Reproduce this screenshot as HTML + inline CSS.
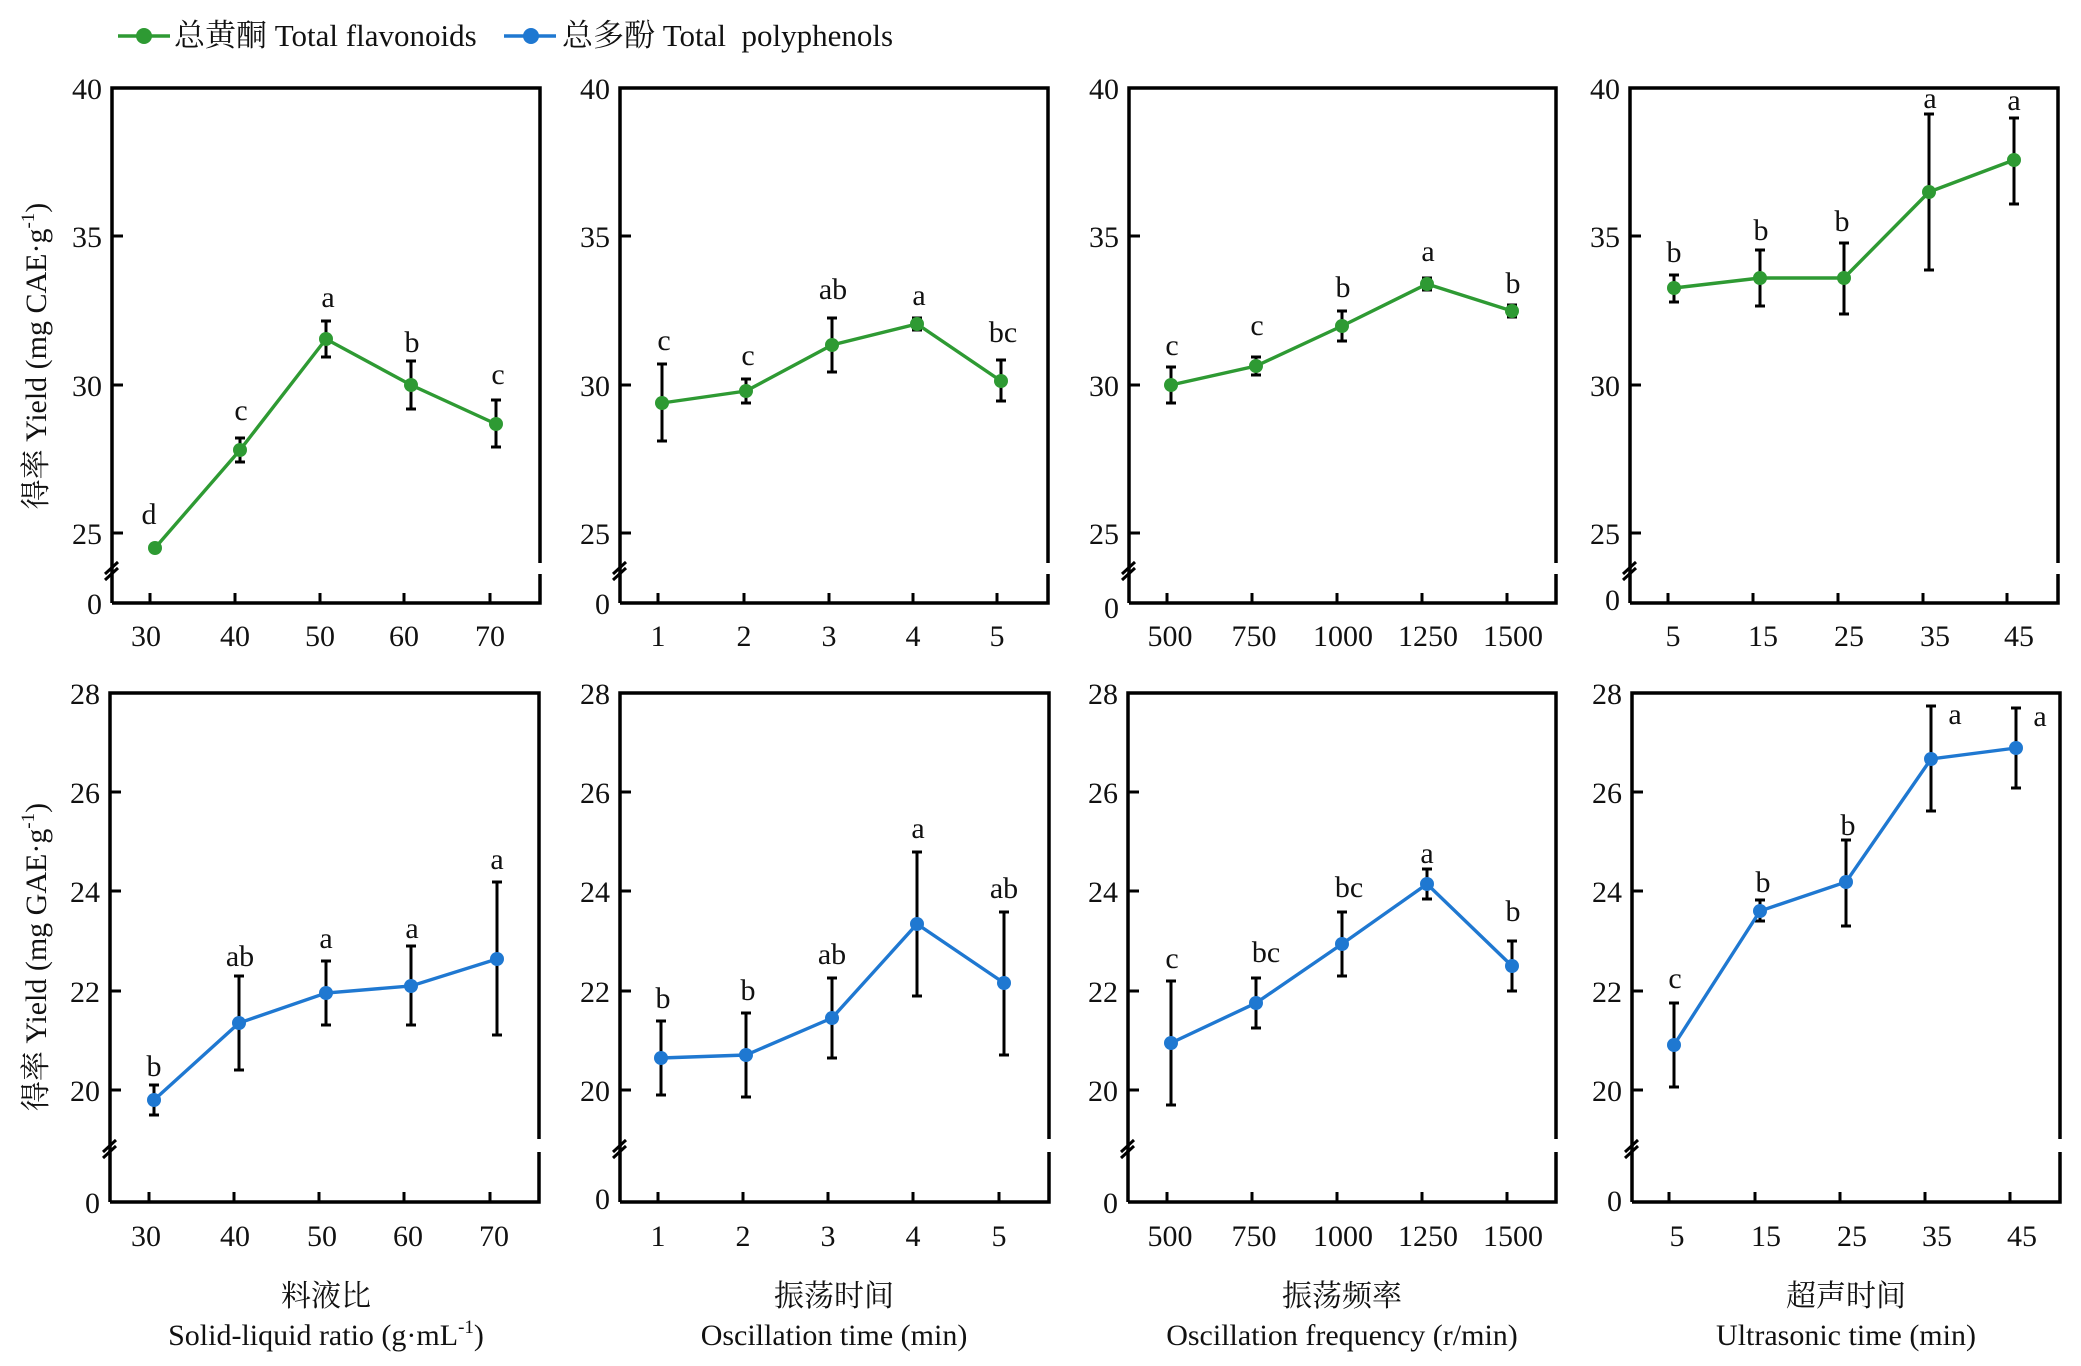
<!DOCTYPE html>
<html><head><meta charset="utf-8"><style>
html,body{margin:0;padding:0;background:#fff;}
svg{display:block;font-family:"Liberation Serif","Noto Serif CJK SC",serif;}
.f{fill:none;stroke:#000;stroke-width:3.5;}
.t{stroke:#000;stroke-width:3;}
.e{stroke:#000;stroke-width:3;fill:none;}
.g{fill:none;stroke:#2e9a33;stroke-width:3.4;}
.b{fill:none;stroke:#1f78d1;stroke-width:3.4;}
text{font-size:30px;fill:#111;}
.yl{text-anchor:end;}
.c{text-anchor:middle;}
.lg{font-size:31px;}
</style></head><body>
<svg width="2081" height="1366" viewBox="0 0 2081 1366" xmlns="http://www.w3.org/2000/svg">
<line x1="118" y1="36" x2="170" y2="36" stroke="#2e9a33" stroke-width="3.4"/><circle cx="144" cy="36" r="8" fill="#2e9a33"/>
<text class="lg" x="174" y="46">总黄酮 Total flavonoids</text>
<line x1="504" y1="36" x2="556" y2="36" stroke="#1f78d1" stroke-width="3.4"/><circle cx="531" cy="36" r="8" fill="#1f78d1"/>
<text class="lg" x="562" y="46">总多酚 Total&#160; polyphenols</text>

<text class="c" transform="translate(46,356) rotate(-90)">得率 Yield (mg CAE·g<tspan font-size="19" dy="-12">-1</tspan><tspan dy="12">)</tspan></text>
<text class="c" transform="translate(46,957) rotate(-90)">得率 Yield (mg GAE·g<tspan font-size="19" dy="-12">-1</tspan><tspan dy="12">)</tspan></text>

<path class="f" d="M112,603 V88 H540 V563 M540,574 V603 H112"/>
<path class="t" d="M112,236 h11 M112,385 h11 M112,533 h11 M150,603 v-10 M235,603 v-10 M320,603 v-10 M404,603 v-10 M490,603 v-10"/>
<path class="t" d="M105,574 l13,-12 M105,580 l13,-12"/>
<path class="f" d="M620,603 V88 H1048 V563 M1048,574 V603 H620"/>
<path class="t" d="M620,236 h11 M620,385 h11 M620,533 h11 M658,603 v-10 M744,603 v-10 M829,603 v-10 M913,603 v-10 M997,603 v-10"/>
<path class="t" d="M613,574 l13,-12 M613,580 l13,-12"/>
<path class="f" d="M1129,603 V88 H1556 V563 M1556,574 V603 H1129"/>
<path class="t" d="M1129,236 h11 M1129,385 h11 M1129,533 h11 M1167,603 v-10 M1252,603 v-10 M1337,603 v-10 M1422,603 v-10 M1507,603 v-10"/>
<path class="t" d="M1122,574 l13,-12 M1122,580 l13,-12"/>
<path class="f" d="M1630,603 V88 H2058 V563 M2058,574 V603 H1630"/>
<path class="t" d="M1630,236 h11 M1630,385 h11 M1630,533 h11 M1668,603 v-10 M1753,603 v-10 M1838,603 v-10 M1923,603 v-10 M2007,603 v-10"/>
<path class="t" d="M1623,574 l13,-12 M1623,580 l13,-12"/>

<text class="yl" x="102" y="99">40</text><text class="yl" x="102" y="247">35</text><text class="yl" x="102" y="396">30</text><text class="yl" x="102" y="544">25</text><text class="yl" x="102" y="614">0</text>
<text class="yl" x="610" y="99">40</text><text class="yl" x="610" y="247">35</text><text class="yl" x="610" y="396">30</text><text class="yl" x="610" y="544">25</text><text class="yl" x="610" y="614">0</text>
<text class="yl" x="1119" y="99">40</text><text class="yl" x="1119" y="247">35</text><text class="yl" x="1119" y="396">30</text><text class="yl" x="1119" y="544">25</text><text class="yl" x="1119" y="618">0</text>
<text class="yl" x="1620" y="99">40</text><text class="yl" x="1620" y="247">35</text><text class="yl" x="1620" y="396">30</text><text class="yl" x="1620" y="544">25</text><text class="yl" x="1620" y="610">0</text>

<text class="c" x="146" y="646">30</text><text class="c" x="235" y="646">40</text><text class="c" x="320" y="646">50</text><text class="c" x="404" y="646">60</text><text class="c" x="490" y="646">70</text>
<text class="c" x="658" y="646">1</text><text class="c" x="744" y="646">2</text><text class="c" x="829" y="646">3</text><text class="c" x="913" y="646">4</text><text class="c" x="997" y="646">5</text>
<text class="c" x="1170" y="646">500</text><text class="c" x="1254" y="646">750</text><text class="c" x="1343" y="646">1000</text><text class="c" x="1428" y="646">1250</text><text class="c" x="1513" y="646">1500</text>
<text class="c" x="1673" y="646">5</text><text class="c" x="1763" y="646">15</text><text class="c" x="1849" y="646">25</text><text class="c" x="1935" y="646">35</text><text class="c" x="2019" y="646">45</text>

<path class="e" d="M240,438 V462 M235,438 h10 M235,462 h10
 M326,321 V357 M321,321 h10 M321,357 h10
 M411,361 V409 M406,361 h10 M406,409 h10
 M496,400 V447 M491,400 h10 M491,447 h10"/>
<polyline class="g" points="155,548 240,450 326,339 411,385 496,424"/>
<g fill="#2e9a33"><circle cx="155" cy="548" r="7"/><circle cx="240" cy="450" r="7"/><circle cx="326" cy="339" r="7"/><circle cx="411" cy="385" r="7"/><circle cx="496" cy="424" r="7"/></g>
<text class="c" x="149" y="524">d</text><text class="c" x="241" y="420">c</text><text class="c" x="328" y="307">a</text><text class="c" x="412" y="352">b</text><text class="c" x="498" y="384">c</text>

<path class="e" d="M662,364 V441 M657,364 h10 M657,441 h10
 M746,379 V403 M741,379 h10 M741,403 h10
 M832,318 V372 M827,318 h10 M827,372 h10
 M917,318 V330 M912,318 h10 M912,330 h10
 M1001,360 V401 M996,360 h10 M996,401 h10"/>
<polyline class="g" points="662,403 746,391 832,345 917,324 1001,381"/>
<g fill="#2e9a33"><circle cx="662" cy="403" r="7"/><circle cx="746" cy="391" r="7"/><circle cx="832" cy="345" r="7"/><circle cx="917" cy="324" r="7"/><circle cx="1001" cy="381" r="7"/></g>
<text class="c" x="664" y="350">c</text><text class="c" x="748" y="365">c</text><text class="c" x="833" y="299">ab</text><text class="c" x="919" y="305">a</text><text class="c" x="1003" y="342">bc</text>

<path class="e" d="M1171,367 V403 M1166,367 h10 M1166,403 h10
 M1256,357 V375 M1251,357 h10 M1251,375 h10
 M1342,311 V341 M1337,311 h10 M1337,341 h10
 M1427,278 V290 M1422,278 h10 M1422,290 h10
 M1512,305 V317 M1507,305 h10 M1507,317 h10"/>
<polyline class="g" points="1171,385 1256,366 1342,326 1427,284 1512,311"/>
<g fill="#2e9a33"><circle cx="1171" cy="385" r="7"/><circle cx="1256" cy="366" r="7"/><circle cx="1342" cy="326" r="7"/><circle cx="1427" cy="284" r="7"/><circle cx="1512" cy="311" r="7"/></g>
<text class="c" x="1172" y="355">c</text><text class="c" x="1257" y="335">c</text><text class="c" x="1343" y="297">b</text><text class="c" x="1428" y="261">a</text><text class="c" x="1513" y="293">b</text>

<path class="e" d="M1674,275 V302 M1669,275 h10 M1669,302 h10
 M1760,250 V306 M1755,250 h10 M1755,306 h10
 M1844,243 V314 M1839,243 h10 M1839,314 h10
 M1929,114 V270 M1924,114 h10 M1924,270 h10
 M2014,118 V204 M2009,118 h10 M2009,204 h10"/>
<polyline class="g" points="1674,288 1760,278 1844,278 1929,192 2014,160"/>
<g fill="#2e9a33"><circle cx="1674" cy="288" r="7"/><circle cx="1760" cy="278" r="7"/><circle cx="1844" cy="278" r="7"/><circle cx="1929" cy="192" r="7"/><circle cx="2014" cy="160" r="7"/></g>
<text class="c" x="1674" y="262">b</text><text class="c" x="1761" y="240">b</text><text class="c" x="1842" y="231">b</text><text class="c" x="1930" y="108">a</text><text class="c" x="2014" y="110">a</text>

<path class="f" d="M110,1202 V693 H539 V1139 M539,1152 V1202 H110"/>
<path class="t" d="M110,792 h11 M110,891 h11 M110,991 h11 M110,1090 h11 M149,1202 v-10 M234,1202 v-10 M319,1202 v-10 M404,1202 v-10 M490,1202 v-10"/>
<path class="t" d="M103,1152 l13,-12 M103,1158 l13,-12"/>
<path class="f" d="M620,1202 V693 H1049 V1139 M1049,1152 V1202 H620"/>
<path class="t" d="M620,792 h11 M620,891 h11 M620,991 h11 M620,1090 h11 M658,1202 v-10 M743,1202 v-10 M828,1202 v-10 M913,1202 v-10 M999,1202 v-10"/>
<path class="t" d="M613,1152 l13,-12 M613,1158 l13,-12"/>
<path class="f" d="M1128,1202 V693 H1556 V1139 M1556,1152 V1202 H1128"/>
<path class="t" d="M1128,792 h11 M1128,891 h11 M1128,991 h11 M1128,1090 h11 M1167,1202 v-10 M1252,1202 v-10 M1337,1202 v-10 M1422,1202 v-10 M1507,1202 v-10"/>
<path class="t" d="M1121,1152 l13,-12 M1121,1158 l13,-12"/>
<path class="f" d="M1632,1202 V693 H2060 V1139 M2060,1152 V1202 H1632"/>
<path class="t" d="M1632,792 h11 M1632,891 h11 M1632,991 h11 M1632,1090 h11 M1669,1202 v-10 M1755,1202 v-10 M1840,1202 v-10 M1925,1202 v-10 M2010,1202 v-10"/>
<path class="t" d="M1625,1152 l13,-12 M1625,1158 l13,-12"/>

<text class="yl" x="100" y="704">28</text><text class="yl" x="100" y="803">26</text><text class="yl" x="100" y="902">24</text><text class="yl" x="100" y="1002">22</text><text class="yl" x="100" y="1101">20</text><text class="yl" x="100" y="1213">0</text>
<text class="yl" x="610" y="704">28</text><text class="yl" x="610" y="803">26</text><text class="yl" x="610" y="902">24</text><text class="yl" x="610" y="1002">22</text><text class="yl" x="610" y="1101">20</text><text class="yl" x="610" y="1209">0</text>
<text class="yl" x="1118" y="704">28</text><text class="yl" x="1118" y="803">26</text><text class="yl" x="1118" y="902">24</text><text class="yl" x="1118" y="1002">22</text><text class="yl" x="1118" y="1101">20</text><text class="yl" x="1118" y="1213">0</text>
<text class="yl" x="1622" y="704">28</text><text class="yl" x="1622" y="803">26</text><text class="yl" x="1622" y="902">24</text><text class="yl" x="1622" y="1002">22</text><text class="yl" x="1622" y="1101">20</text><text class="yl" x="1622" y="1211">0</text>

<text class="c" x="146" y="1246">30</text><text class="c" x="235" y="1246">40</text><text class="c" x="322" y="1246">50</text><text class="c" x="408" y="1246">60</text><text class="c" x="494" y="1246">70</text>
<text class="c" x="658" y="1246">1</text><text class="c" x="743" y="1246">2</text><text class="c" x="828" y="1246">3</text><text class="c" x="913" y="1246">4</text><text class="c" x="999" y="1246">5</text>
<text class="c" x="1170" y="1246">500</text><text class="c" x="1254" y="1246">750</text><text class="c" x="1343" y="1246">1000</text><text class="c" x="1428" y="1246">1250</text><text class="c" x="1513" y="1246">1500</text>
<text class="c" x="1677" y="1246">5</text><text class="c" x="1766" y="1246">15</text><text class="c" x="1852" y="1246">25</text><text class="c" x="1937" y="1246">35</text><text class="c" x="2022" y="1246">45</text>

<text class="c" x="326" y="1306">料液比</text>
<text class="c" x="326" y="1345">Solid-liquid ratio (g·mL<tspan font-size="19" dy="-12">-1</tspan><tspan dy="12">)</tspan></text>
<text class="c" x="834" y="1306">振荡时间</text>
<text class="c" x="834" y="1345">Oscillation time (min)</text>
<text class="c" x="1342" y="1306">振荡频率</text>
<text class="c" x="1342" y="1345">Oscillation frequency (r/min)</text>
<text class="c" x="1846" y="1306">超声时间</text>
<text class="c" x="1846" y="1345">Ultrasonic time (min)</text>

<path class="e" d="M154,1085 V1115 M149,1085 h10 M149,1115 h10
 M239,976 V1070 M234,976 h10 M234,1070 h10
 M326,961 V1025 M321,961 h10 M321,1025 h10
 M411,946 V1025 M406,946 h10 M406,1025 h10
 M497,882 V1035 M492,882 h10 M492,1035 h10"/>
<polyline class="b" points="154,1100 239,1023 326,993 411,986 497,959"/>
<g fill="#1f78d1"><circle cx="154" cy="1100" r="7"/><circle cx="239" cy="1023" r="7"/><circle cx="326" cy="993" r="7"/><circle cx="411" cy="986" r="7"/><circle cx="497" cy="959" r="7"/></g>
<text class="c" x="154" y="1076">b</text><text class="c" x="240" y="966">ab</text><text class="c" x="326" y="948">a</text><text class="c" x="412" y="938">a</text><text class="c" x="497" y="869">a</text>

<path class="e" d="M661,1021 V1095 M656,1021 h10 M656,1095 h10
 M746,1013 V1097 M741,1013 h10 M741,1097 h10
 M832,978 V1058 M827,978 h10 M827,1058 h10
 M917,852 V996 M912,852 h10 M912,996 h10
 M1004,912 V1055 M999,912 h10 M999,1055 h10"/>
<polyline class="b" points="661,1058 746,1055 832,1018 917,924 1004,983"/>
<g fill="#1f78d1"><circle cx="661" cy="1058" r="7"/><circle cx="746" cy="1055" r="7"/><circle cx="832" cy="1018" r="7"/><circle cx="917" cy="924" r="7"/><circle cx="1004" cy="983" r="7"/></g>
<text class="c" x="663" y="1008">b</text><text class="c" x="748" y="1000">b</text><text class="c" x="832" y="964">ab</text><text class="c" x="918" y="838">a</text><text class="c" x="1004" y="898">ab</text>

<path class="e" d="M1171,981 V1105 M1166,981 h10 M1166,1105 h10
 M1256,978 V1028 M1251,978 h10 M1251,1028 h10
 M1342,912 V976 M1337,912 h10 M1337,976 h10
 M1427,869 V899 M1422,869 h10 M1422,899 h10
 M1512,941 V991 M1507,941 h10 M1507,991 h10"/>
<polyline class="b" points="1171,1043 1256,1003 1342,944 1427,884 1512,966"/>
<g fill="#1f78d1"><circle cx="1171" cy="1043" r="7"/><circle cx="1256" cy="1003" r="7"/><circle cx="1342" cy="944" r="7"/><circle cx="1427" cy="884" r="7"/><circle cx="1512" cy="966" r="7"/></g>
<text class="c" x="1172" y="968">c</text><text class="c" x="1266" y="962">bc</text><text class="c" x="1349" y="897">bc</text><text class="c" x="1427" y="863">a</text><text class="c" x="1513" y="921">b</text>

<path class="e" d="M1674,1003 V1087 M1669,1003 h10 M1669,1087 h10
 M1760,900 V921 M1755,900 h10 M1755,921 h10
 M1846,840 V926 M1841,840 h10 M1841,926 h10
 M1931,706 V811 M1926,706 h10 M1926,811 h10
 M2016,708 V788 M2011,708 h10 M2011,788 h10"/>
<polyline class="b" points="1674,1045 1760,911 1846,882 1931,759 2016,748"/>
<g fill="#1f78d1"><circle cx="1674" cy="1045" r="7"/><circle cx="1760" cy="911" r="7"/><circle cx="1846" cy="882" r="7"/><circle cx="1931" cy="759" r="7"/><circle cx="2016" cy="748" r="7"/></g>
<text class="c" x="1675" y="988">c</text><text class="c" x="1763" y="892">b</text><text class="c" x="1848" y="835">b</text><text class="c" x="1955" y="724">a</text><text class="c" x="2040" y="726">a</text>
</svg>
</body></html>
